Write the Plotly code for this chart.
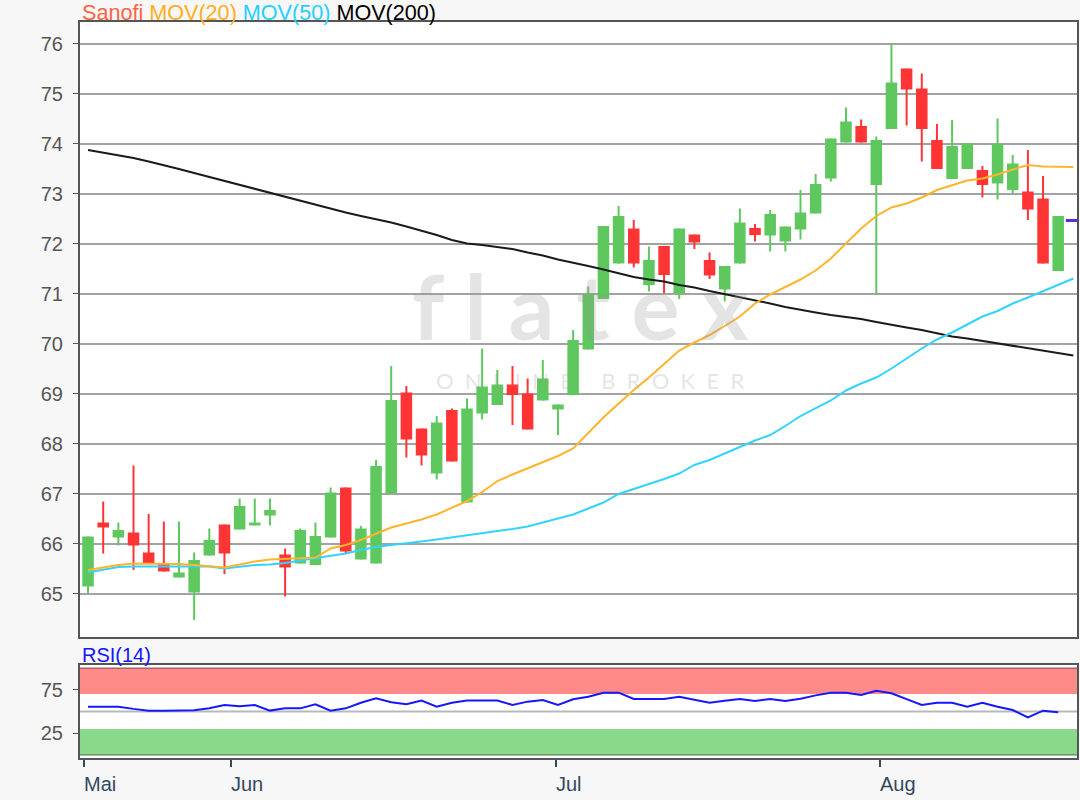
import plotly.graph_objects as go

# ---------------- data ----------------
open_ = [65.14, 66.42, 66.12, 66.22, 65.82, 65.59, 65.32, 65.02, 65.76, 66.38,
         66.28, 66.36, 66.56, 65.78, 65.60, 65.57, 66.12, 67.12, 65.68, 65.60,
         67.00, 69.02, 68.30, 67.40, 68.67, 66.82, 68.60, 68.77, 69.18, 69.00,
         68.86, 68.68, 68.97, 69.88, 70.89, 71.60, 72.30, 71.17, 71.95, 71.00,
         72.18, 71.67, 71.08, 71.60, 72.31, 72.16, 72.04, 72.28, 72.60, 73.30,
         74.02, 74.35, 73.17, 74.29, 75.50, 75.10, 74.07, 73.29, 73.49, 73.47,
         73.20, 73.07, 73.04, 72.90, 71.45]
high = [66.14, 66.84, 66.42, 67.56, 66.59, 66.44, 66.44, 65.82, 66.30, 66.38,
        66.90, 66.90, 66.90, 65.90, 66.30, 66.42, 67.12, 67.12, 66.35, 67.67,
        69.55, 69.15, 68.30, 68.55, 68.70, 68.90, 69.90, 69.47, 69.55, 69.30,
        69.67, 68.78, 70.27, 71.14, 72.35, 72.75, 72.47, 71.94, 71.95, 72.30,
        72.18, 71.82, 71.55, 72.70, 72.39, 72.67, 72.34, 73.07, 73.39, 74.10,
        74.72, 74.48, 74.14, 75.97, 75.50, 75.40, 74.39, 74.47, 74.00, 73.55,
        74.50, 73.77, 73.87, 73.35, 72.55]
low = [65.00, 65.80, 65.96, 65.47, 65.59, 65.44, 65.32, 64.47, 65.76, 65.39,
       66.28, 66.36, 66.36, 64.94, 65.60, 65.57, 66.12, 65.79, 65.68, 65.60,
       67.00, 67.72, 67.56, 67.28, 67.64, 66.82, 68.48, 68.77, 68.37, 68.28,
       68.86, 68.17, 68.97, 69.88, 70.89, 71.60, 71.52, 71.04, 71.00, 70.89,
       71.89, 71.29, 70.84, 71.60, 72.04, 71.84, 71.84, 72.08, 72.60, 73.24,
       74.02, 74.02, 71.00, 74.29, 74.36, 73.64, 73.49, 73.29, 73.49, 72.92,
       72.88, 73.00, 72.47, 71.60, 71.45]
close = [66.14, 66.32, 66.27, 65.96, 65.59, 65.44, 65.42, 65.67, 66.07, 65.80,
         66.75, 66.42, 66.67, 65.52, 66.27, 66.15, 67.02, 65.84, 66.30, 67.55,
         68.87, 68.08, 67.76, 68.42, 67.64, 68.70, 69.14, 69.18, 68.97, 68.28,
         69.30, 68.78, 70.07, 70.99, 72.35, 72.55, 71.60, 71.67, 71.37, 72.30,
         72.02, 71.36, 71.55, 72.42, 72.17, 72.59, 72.34, 72.62, 73.19, 74.10,
         74.44, 74.02, 74.07, 75.22, 75.08, 74.29, 73.49, 73.95, 74.00, 73.17,
         73.99, 73.60, 72.68, 71.60, 72.55]

ma20 = [65.47, 65.52, 65.57, 65.60, 65.60, 65.60, 65.59, 65.57, 65.55, 65.52,
        65.58, 65.64, 65.68, 65.69, 65.70, 65.72, 65.90, 65.97, 66.07, 66.20,
        66.32, 66.40, 66.48, 66.58, 66.72, 66.85, 67.03, 67.25, 67.38, 67.50,
        67.62, 67.75, 67.90, 68.22, 68.52, 68.80, 69.07, 69.32, 69.60, 69.86,
        70.02, 70.17, 70.35, 70.54, 70.80, 70.98, 71.13, 71.28, 71.46, 71.70,
        72.00, 72.30, 72.55, 72.72, 72.80, 72.92, 73.07, 73.16, 73.26, 73.30,
        73.38, 73.48, 73.57, 73.54, 73.53, 73.53]
ma50 = [65.42, 65.48, 65.53, 65.54, 65.54, 65.54, 65.54, 65.55, 65.54, 65.50,
        65.54, 65.57, 65.58, 65.61, 65.66, 65.71, 65.75, 65.80, 65.87, 65.93,
        65.97, 66.00, 66.04, 66.08, 66.12, 66.16, 66.20, 66.24, 66.29, 66.34,
        66.42, 66.50, 66.58, 66.70, 66.82, 66.99, 67.09, 67.18, 67.29, 67.40,
        67.57, 67.67, 67.80, 67.94, 68.06, 68.17, 68.35, 68.55, 68.70, 68.86,
        69.06, 69.20, 69.32, 69.50, 69.70, 69.90, 70.08, 70.22, 70.38, 70.54,
        70.65, 70.80, 70.92, 71.05, 71.17, 71.30]
ma200 = [73.87, 73.82, 73.76, 73.71, 73.64, 73.57, 73.49, 73.41, 73.33, 73.25,
         73.17, 73.09, 73.01, 72.93, 72.85, 72.77, 72.69, 72.62, 72.55, 72.49,
         72.42, 72.34, 72.26, 72.17, 72.07, 72.00, 71.97, 71.93, 71.89, 71.82,
         71.76, 71.68, 71.62, 71.55, 71.48, 71.41, 71.33, 71.28, 71.24, 71.17,
         71.12, 71.05, 70.99, 70.93, 70.86, 70.80, 70.73, 70.67, 70.62, 70.57,
         70.53, 70.49, 70.43, 70.37, 70.32, 70.27, 70.20, 70.14, 70.10, 70.05,
         70.00, 69.96, 69.90, 69.85, 69.80, 69.76]
rsi = [55.5, 55.5, 55.5, 53.0, 50.9, 50.9, 50.9, 51.5, 53.6, 57.5,
       56.0, 57.5, 51.0, 53.6, 53.6, 58.2, 50.9, 53.6, 60.1, 65.1,
       60.5, 58.2, 62.5, 55.5, 60.1, 62.5, 62.5, 62.5, 57.5, 61.3,
       63.2, 57.5, 64.0, 67.0, 71.6, 71.6, 64.4, 64.4, 64.4, 67.0,
       63.5, 60.1, 62.2, 64.4, 62.1, 64.4, 62.1, 64.5, 68.5, 71.6,
       71.6, 69.0, 73.9, 70.9, 64.2, 57.5, 60.1, 60.1, 55.5, 60.1,
       55.5, 51.7, 43.3, 50.9, 49.0]
last_price = 72.46

month_labels = ["Mai", "Jun", "Jul", "Aug"]
month_pos = [-0.26, 9.43, 30.87, 52.24]
price_ticks = list(range(65, 77))
rsi_ticks = [25, 75]
rsi_lines = [0, 50, 100]
rsi_bands = [(70, 100, "#ff8a8a"), (0, 30, "#8ad88a")]

# ---------------- styling ----------------
GREEN = "#5ec85e"
RED = "#ff3434"
FONT = "Liberation Sans, Arial, sans-serif"
n = len(close)
idx = list(range(n))

fig = go.Figure()

# wicks
for col, up in ((GREEN, True), (RED, False)):
    wx, wy = [], []
    for i in idx:
        if (close[i] >= open_[i]) == up:
            wx += [i, i, None]
            wy += [low[i], high[i], None]
    fig.add_trace(go.Scatter(x=wx, y=wy, mode="lines", line=dict(color=col, width=2),
                             hoverinfo="skip", xaxis="x", yaxis="y"))

# bodies
bases = [min(o, c) for o, c in zip(open_, close)]
heights = [max(abs(c - o), 0.03) for o, c in zip(open_, close)]
colors = [GREEN if c >= o else RED for o, c in zip(open_, close)]
fig.add_trace(go.Bar(x=idx, y=heights, base=bases, width=0.76,
                     marker=dict(color=colors, line=dict(width=0)),
                     xaxis="x", yaxis="y", name="Sanofi"))

ma_x = list(range(len(ma20)))
fig.add_trace(go.Scatter(x=ma_x, y=ma200, mode="lines", line=dict(color="#1a1a1a", width=2),
                         name="MOV(200)", xaxis="x", yaxis="y"))
fig.add_trace(go.Scatter(x=ma_x, y=ma50, mode="lines", line=dict(color="#33d3ff", width=2),
                         name="MOV(50)", xaxis="x", yaxis="y"))
fig.add_trace(go.Scatter(x=ma_x, y=ma20, mode="lines", line=dict(color="#ffb42e", width=2),
                         name="MOV(20)", xaxis="x", yaxis="y"))

# RSI
fig.add_trace(go.Scatter(x=idx, y=rsi, mode="lines", line=dict(color="#1616ff", width=2),
                         name="RSI(14)", xaxis="x2", yaxis="y2"))

shapes = []
for y0, y1, c in rsi_bands:
    shapes.append(dict(type="rect", xref="x2 domain", yref="y2", x0=0, x1=1, y0=y0, y1=y1,
                       fillcolor=c, line=dict(width=0), layer="below"))
for v in rsi_lines:
    shapes.append(dict(type="line", xref="x2 domain", yref="y2", x0=0, x1=1, y0=v, y1=v,
                       line=dict(color="rgba(0,0,0,0.28)", width=2), layer="below"))
# last price marker
shapes.append(dict(type="line", xref="x", yref="y", x0=n - 0.5, x1=n + 0.4,
                   y0=last_price, y1=last_price, line=dict(color="#5a2ee0", width=3)))

X_RANGE = [-0.53, 65.24]
MAIN_DOM = [0.1644, 1]
RSI_DOM = [0, 0.1264]

annotations = [
    dict(xref="paper", yref="paper", x=0, y=1, xanchor="left", yanchor="bottom",
         xshift=0, yshift=-5, showarrow=False, font=dict(family=FONT, size=21.6),
         text='<span style="color:#ff6347">Sanofi</span> '
              '<span style="color:#ffae1f">MOV(20)</span> '
              '<span style="color:#25d0ff">MOV(50)</span> '
              '<span style="color:#000000">MOV(200)</span>'),
    dict(xref="paper", yref="paper", x=0, y=RSI_DOM[1], xanchor="left", yanchor="bottom",
         yshift=-3, showarrow=False, font=dict(family=FONT, size=20, color="#1414ff"),
         text="RSI(14)"),
    # watermark
    dict(xref="paper", yref="paper", x=0.502, y=0.5394, xanchor="center", yanchor="bottom",
         showarrow=False, font=dict(family="Lato, Open Sans, sans-serif", size=90,
                                    color="rgba(150,150,150,0.26)"),
         text="<b>f\u00a0l\u00a0a\u00a0t\u00a0e\u00a0x</b>"),
    dict(xref="paper", yref="paper", x=0.512, y=0.5340, xanchor="center", yanchor="top",
         showarrow=False, font=dict(family="Lato, Open Sans, sans-serif", size=22,
                                    color="rgba(150,150,150,0.26)"),
         text="\u00a0\u00a0".join("ONLINE") + "\u00a0\u00a0\u00a0\u00a0\u00a0" + "\u00a0\u00a0".join("BROKER")),
]
for lab, pos in zip(month_labels, month_pos):
    annotations.append(dict(xref="x2", yref="paper", x=pos, y=0, xanchor="left", yanchor="top",
                            xshift=-2, yshift=-13, showarrow=False,
                            font=dict(family=FONT, size=20, color="#33495d"), text=lab))

fig.update_layout(
    template="none",
    width=1080, height=800,
    margin=dict(l=80, r=3, t=22, b=42, autoexpand=False),
    paper_bgcolor="#f7f7f7", plot_bgcolor="white",
    showlegend=False,
    shapes=shapes, annotations=annotations,
    xaxis=dict(domain=[0, 1], range=X_RANGE, anchor="y", showgrid=False, zeroline=False,
               showticklabels=False, ticks="", showline=True, mirror=True, automargin=False,
               linecolor="#555555", linewidth=2),
    yaxis=dict(domain=MAIN_DOM, range=[64.13, 76.43], anchor="x", tickvals=price_ticks,
               ticks="outside", ticklen=5, tickwidth=1, tickcolor="#555555",
               ticklabelstandoff=6, automargin=False,
               gridcolor="#a3a3a3", gridwidth=2, zeroline=False, showline=True, mirror=True,
               linecolor="#555555", linewidth=2,
               tickfont=dict(family=FONT, size=20, color="#555555")),
    xaxis2=dict(domain=[0, 1], range=X_RANGE, anchor="y2", matches="x", showgrid=False,
                zeroline=False, tickvals=month_pos, ticktext=[""] * len(month_pos),
                ticks="outside", ticklen=7, tickwidth=2, tickcolor="#33495d", automargin=False,
                showline=True, mirror=True, linecolor="#555555", linewidth=2),
    yaxis2=dict(domain=RSI_DOM, range=[-3.4, 103.4], anchor="x2", tickvals=rsi_ticks,
                ticks="outside", ticklen=5, tickcolor="#555555", showgrid=False,
                ticklabelstandoff=6, automargin=False,
                zeroline=False, showline=True, mirror=True, linecolor="#555555", linewidth=2,
                tickfont=dict(family=FONT, size=20, color="#555555")),
)

fig.write_html("out.html", config={"displayModeBar": False},
               post_script="document.body.style.margin='0';document.body.style.overflow='hidden';")
